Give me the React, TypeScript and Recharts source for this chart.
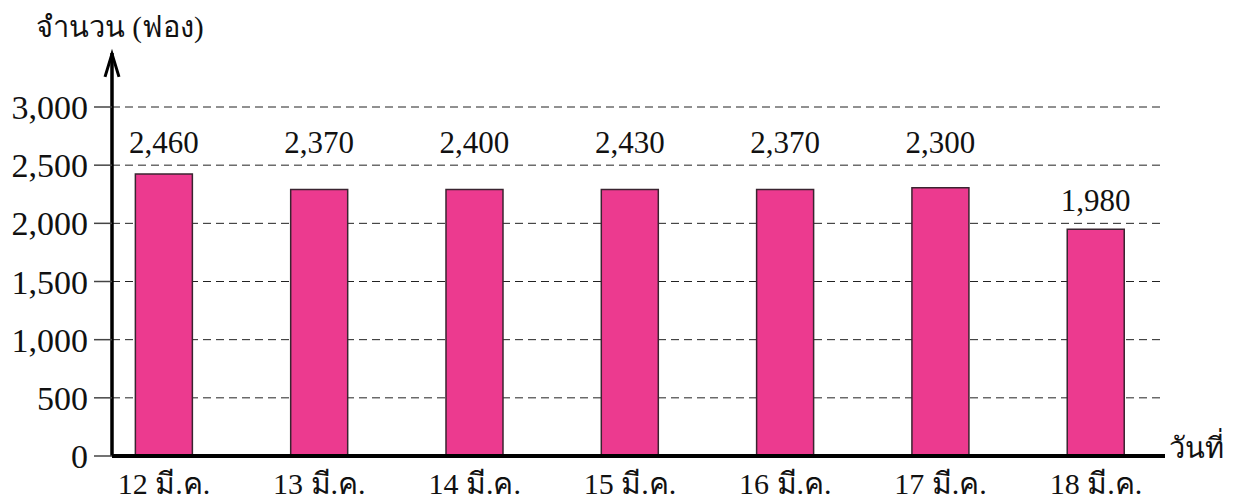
import React from 'react';
import { BarChart, Bar, XAxis, YAxis, CartesianGrid, LabelList, ReferenceLine } from 'recharts';

const dates = ['12 มี.ค.', '13 มี.ค.', '14 มี.ค.', '15 มี.ค.', '16 มี.ค.', '17 มี.ค.', '18 มี.ค.'];
const barHeights = [2425, 2290, 2290, 2290, 2290, 2305, 1950];
const printedCounts = [2460, 2370, 2400, 2430, 2370, 2300, 1980];
const yTicks = [0, 500, 1000, 1500, 2000, 2500, 3000];
const gridStep = 500;
const yAxisTitle = 'จำนวน (ฟอง)';
const xAxisTitle = 'วันที่';

const data = dates.map((d, i) => ({ idx: i, date: d, height: barHeights[i], count: printedCounts[i] }));
const xTicks = dates.map((_, i) => i);

const FONT = "'Liberation Serif', 'DejaVu Serif', serif";
const PINK = '#EC3A8F';

const fmt = (v: number) => v.toLocaleString('en-US');

const BarValueLabel = (props: any) => {
  const { x, y, width, height, index } = props;
  const v = barHeights[index];
  const base = y + height;
  const gridVal = Math.ceil(v / gridStep) * gridStep;
  const gy = base - gridVal * (height / v);
  return (
    <text x={x + width / 2} y={gy - 12} textAnchor="middle" fontFamily={FONT} fontSize={31} fill="#111">
      {fmt(printedCounts[index])}
    </text>
  );
};

const ArrowAxis = (props: any) => {
  const { x1, y1, x2, y2 } = props;
  const top = Math.min(y1, y2);
  const bottom = Math.max(y1, y2);
  return (
    <g>
      <line x1={x1} y1={bottom} x2={x1} y2={top} stroke="#000" strokeWidth={3.5} />
      <polyline points={`${x1 - 7},${top + 24} ${x1},${top + 1} ${x1 + 7},${top + 24}`} fill="none" stroke="#000" strokeWidth={3} />
    </g>
  );
};

export default function App() {
  return (
    <div style={{ width: 1225, height: 495 }}>
      <BarChart width={1225} height={495} data={data} margin={{ top: 99, right: 68, bottom: 0, left: 0 }}>
        <CartesianGrid horizontal vertical={false} stroke="#222" strokeDasharray="8 5" strokeWidth={1} />
        <XAxis
          dataKey="idx"
          type="number"
          domain={[-0.335, 6.445]}
          ticks={xTicks}
          interval={0}
          allowDataOverflow
          tickFormatter={(v: number) => dates[v]}
          tickLine={false}
          tickSize={0}
          tickMargin={17}
          axisLine={{ stroke: '#000', strokeWidth: 4 }}
          height={47}
          tick={{ fontFamily: FONT, fontSize: 30, fill: '#111' }}
          label={{
            content: (p: any) => {
              const vb = p.viewBox;
              return (
                <text x={vb.x + vb.width + 4} y={vb.y + 2} fontFamily={FONT} fontSize={29} fill="#111">
                  {xAxisTitle}
                </text>
              );
            },
          }}
        />
        <YAxis
          type="number"
          domain={[0, 3000]}
          ticks={yTicks}
          interval={0}
          width={104}
          tickSize={18}
          tickMargin={6}
          tickLine={{ stroke: '#444', strokeWidth: 1.5 }}
          axisLine={false}
          tickFormatter={fmt}
          tick={{ fontFamily: FONT, fontSize: 34, fill: '#111' }}
          label={{
            content: (p: any) => {
              const vb = p.viewBox;
              return (
                <text x={vb.x + 28} y={vb.y - 70} fontFamily={FONT} fontSize={29} fill="#111">
                  {yAxisTitle}
                </text>
              );
            },
          }}
        />
        <ReferenceLine
          segment={[{ x: -0.335, y: 0 }, { x: -0.335, y: 3465 }]}
          ifOverflow="visible"
          shape={ArrowAxis}
        />
        <Bar dataKey="height" barSize={57} fill={PINK} stroke="#3a2430" strokeWidth={1.5} isAnimationActive={false}>
          <LabelList dataKey="count" content={BarValueLabel} />
        </Bar>
      </BarChart>
    </div>
  );
}
